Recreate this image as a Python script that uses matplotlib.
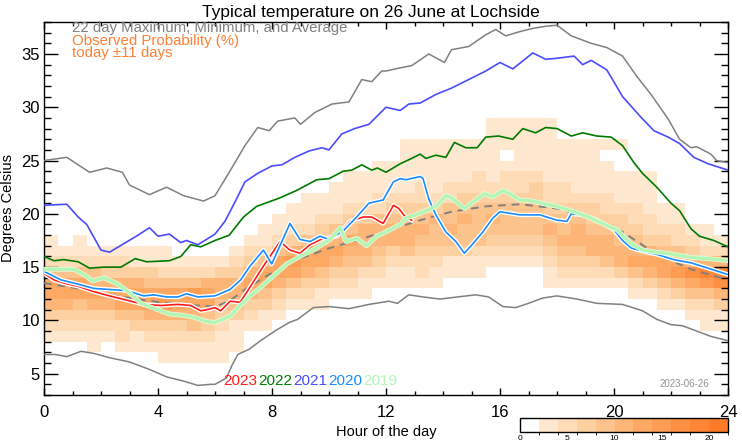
import matplotlib
matplotlib.use('Agg')
import matplotlib.pyplot as plt
import matplotlib.patheffects as pe
from matplotlib.colors import ListedColormap, BoundaryNorm
import numpy as np

plt.rcParams['font.family'] = ['Liberation Sans', 'DejaVu Sans']
plt.rcParams['lines.solid_joinstyle'] = 'round'

# Observed probability, one string per half-hour column, rows are 1 degree
# bins starting at 5 C. Digit = colour level (level n -> 2n..2n+2 %)
prob_cols = [
    "0001235664211", "000123566421", "0001234664211", "001123565421",
    "000123565321", "001224665321", "001134665311", "001235664311",
    "011235764211", "01123566421", "01124567421", "01123466521",
    "01112345531", "001113455321", "0000123565321", "00001134664211",
    "000001235664211", "0000001246753211", "00000012356642111", "00000011346653211",
    "000000012356542111", "0000000123456432111", "0000000112455532111", "00000000123455422111",
    "00000000112355432111", "0000000011245543211111", "0000000012234543221111", "0000000011234453211111",
    "0000000001134544221111", "0000000001134454321111", "0000000001124444322111", "000000000012345432111111",
    "000000000012344432210111", "000000000012344432211111", "000000000012344433211111", "000000001123454322111111",
    "0000000012345443221111", "0000000012345543211111", "0000000012355433211111", "0000000012455432211101",
    "0000000013554332111001", "0000000124654322111", "0000000135653221111", "0000001246643211",
    "0000001357642211", "00000124685321", "00001124795211", "0000113589521",
]
prob_t0 = 5
prob_rows = 25

# 22 day maximum / minimum / average
max_h = [0, 0.8, 1.6, 2.2, 2.75, 3.0, 3.7, 4.3, 4.9, 5.6, 6.0, 6.5, 7.05, 7.5, 7.9, 8.2, 8.8, 9.0, 9.5,
         10.1, 10.7, 11.15, 11.5, 11.85, 12.0, 12.5, 12.9, 13.5, 14.05, 14.3, 14.9, 15.5, 15.85, 16.2,
         16.7, 17.15, 17.6, 18.0, 18.5, 19.2, 19.75, 20.3, 20.8, 21.3, 21.9, 22.3, 22.7, 22.9, 23.4, 23.6, 24.0]
max_t = [25.0, 25.3, 23.9, 24.3, 23.9, 22.7, 21.8, 22.5, 21.7, 21.2, 21.7, 23.9, 26.4, 28.1, 27.8, 28.7, 29.0, 28.4, 29.5,
         30.3, 30.5, 32.6, 32.4, 33.4, 33.4, 33.7, 33.9, 35.0, 34.2, 35.4, 35.7, 36.8, 37.3, 36.7,
         37.1, 37.4, 37.6, 37.7, 36.7, 36.0, 35.6, 34.8, 32.9, 31.2, 28.9, 27.0, 26.2, 26.3, 25.6, 25.0, 24.8]

min_h = [0, 0.4, 0.8, 1.3, 1.75, 2.3, 3.0, 3.7, 4.3, 4.9, 5.4, 5.85, 6.0, 6.4, 6.6, 6.8, 7.2, 7.6, 8.1, 8.6, 8.9,
         9.45, 10.0, 10.7, 11.4, 12.1, 12.4, 12.8, 13.3, 13.9, 14.5, 15.15, 15.6, 16.1, 16.55, 17.0, 17.5,
         18.0, 18.7, 19.4, 20.3, 21.0, 21.5, 22.0, 22.4, 22.9, 23.4, 24.0]
min_t = [6.8, 6.8, 6.6, 7.1, 6.9, 6.5, 6.1, 5.4, 4.7, 4.3, 3.9, 4.0, 4.0, 4.6, 5.8, 6.8, 7.3, 8.1, 9.0, 9.8, 10.1,
         11.2, 11.3, 11.1, 11.5, 11.8, 11.6, 12.4, 12.2, 12.0, 12.2, 12.4, 12.2, 11.3, 11.2, 11.6, 12.1,
         12.3, 12.0, 11.6, 11.5, 10.9, 10.1, 9.6, 9.5, 9.0, 8.5, 8.1]

avg_h = [0, 1.2, 2.3, 3.5, 4.7, 6.0, 6.5, 7.0, 7.7, 8.87, 10.04, 11.2, 12.37, 13.2, 14.3, 15.5, 16.7, 18.0,
         19.2, 20.3, 21.5, 22.7, 24.0]
avg_t = [13.5, 13.0, 12.4, 11.9, 11.5, 11.3, 11.8, 12.8, 14.0, 15.7, 16.8, 17.7, 18.7, 19.4, 20.2, 20.7, 20.9, 20.5,
         19.6, 18.3, 16.2, 14.8, 13.8]

# individual years
y2021_h = [0, 0.8, 1.2, 1.5, 2.0, 2.3, 2.8, 3.3, 3.7, 4.0, 4.4, 4.8, 5.0, 5.4, 6.0, 6.35, 6.7, 7.05, 7.5, 8.0,
           8.35, 8.8, 9.3, 9.75, 10.0, 10.45, 10.9, 11.4, 11.7, 12.0, 12.5, 12.8, 13.2, 13.75, 14.3, 14.9,
           15.5, 16.0, 16.45, 17.15, 17.6, 18.0, 18.6, 18.9, 19.2, 19.75, 20.3, 20.9, 21.4, 21.9, 22.3,
           22.8, 23.3, 24.0]
y2021_t = [20.8, 20.9, 19.7, 19.0, 16.6, 16.4, 17.2, 18.0, 18.7, 17.9, 18.1, 17.3, 17.5, 17.1, 18.1, 19.3, 21.1, 23.0, 23.8, 24.5,
           24.6, 25.3, 25.9, 26.2, 26.0, 27.5, 28.0, 28.4, 29.2, 30.0, 29.7, 30.3, 30.4, 31.2, 31.8, 32.6,
           33.4, 34.2, 33.6, 35.1, 34.5, 34.6, 34.8, 34.0, 34.4, 33.5, 31.0, 29.2, 27.8, 27.2, 26.6,
           25.3, 24.7, 24.1]

y2022_h = [0, 0.35, 0.7, 1.2, 1.6, 2.1, 2.7, 3.2, 3.6, 4.4, 4.8, 5.15, 5.5, 6.0, 6.5, 7.0, 7.46, 8.28, 8.87,
           9.57, 10.0, 10.5, 10.8, 11.15, 11.5, 11.7, 12.0, 12.5, 12.9, 13.2, 13.4, 13.75, 14.1, 14.4, 14.8,
           15.2, 15.5, 15.95, 16.45, 16.8, 17.25, 17.6, 18.0, 18.5, 18.9, 19.4, 19.9, 20.3, 20.7, 21.0,
           21.5, 22.0, 22.3, 22.7, 23.0, 23.5, 24.0]
y2022_t = [16.0, 15.6, 15.7, 15.5, 14.9, 15.0, 15.0, 15.8, 15.5, 15.6, 16.0, 17.1, 16.9, 17.5, 18.0, 19.7, 20.7, 21.5, 22.2,
           23.2, 23.3, 24.0, 24.1, 24.6, 24.1, 24.3, 23.9, 24.7, 25.2, 25.6, 25.2, 25.5, 25.3, 26.7, 26.2,
           26.2, 27.2, 27.3, 27.0, 28.0, 27.6, 28.1, 28.0, 27.3, 27.6, 27.3, 27.2, 26.4, 24.8, 23.8,
           22.5, 21.0, 20.3, 18.6, 17.9, 17.5, 16.9]

y2023_h = [0, 0.35, 0.7, 1.2, 1.75, 2.3, 2.9, 3.5, 4.1, 4.7, 5.15, 5.5, 5.7, 6.0, 6.2, 6.53, 6.88, 7.2, 7.7,
           8.28, 8.63, 8.98, 9.33, 9.8, 10.27, 10.74, 11.2, 11.5, 11.9, 12.26, 12.45, 12.65, 12.9]
y2023_t = [14.4, 13.8, 13.5, 13.2, 12.7, 12.3, 11.9, 11.5, 11.4, 11.5, 11.4, 10.9, 11.0, 11.2, 10.9, 11.8, 11.7, 13.0, 15.1,
           17.4, 16.6, 16.3, 17.1, 17.7, 17.9, 19.3, 19.7, 19.7, 19.1, 20.8, 20.5, 19.8, 19.4]

y2020_h = [0, 0.6, 1.2, 1.75, 2.3, 2.9, 3.5, 3.85, 4.3, 4.7, 5.0, 5.4, 6.0, 6.53, 6.9, 7.23, 7.7, 7.99, 8.28,
           8.63, 8.98, 9.33, 9.68, 10.0, 10.5, 10.97, 11.4, 11.9, 12.26, 12.5, 12.7, 13.2, 13.3, 13.5, 13.75,
           14.1, 14.45, 14.75, 15.05, 15.4, 15.75, 16.0, 16.7, 17.4, 18.0, 18.35, 18.5, 18.9, 19.4, 20.0,
           20.3, 20.6, 21.0, 21.5, 22.1, 22.7, 23.3, 24.0]
y2020_t = [14.6, 13.8, 13.4, 13.0, 12.9, 12.8, 12.3, 12.4, 12.2, 12.2, 12.5, 12.2, 12.3, 12.9, 13.8, 15.1, 16.6, 15.3, 17.0,
           19.1, 17.6, 17.4, 17.9, 17.6, 18.4, 19.7, 21.0, 21.3, 23.0, 23.3, 23.2, 23.5, 23.3, 21.4, 19.9,
           18.3, 17.4, 16.3, 17.2, 18.3, 19.6, 20.2, 19.9, 19.9, 19.4, 19.3, 20.0, 19.9, 19.4, 18.5,
           17.5, 16.8, 16.5, 16.2, 15.7, 15.4, 14.9, 14.3]

y2019_h = [0, 0.5, 1.05, 1.4, 1.7, 2.1, 2.6, 3.0, 3.4, 3.7, 4.1, 4.4, 4.8, 5.25, 5.7, 6.0, 6.53, 6.88, 7.23,
           7.6, 7.93, 8.52, 8.98, 9.57, 10.04, 10.39, 10.6, 10.97, 11.32, 11.67, 12.14, 12.5, 12.7, 13.05,
           13.4, 13.75, 14.1, 14.3, 14.75, 15.05, 15.45, 15.75, 16.1, 16.4, 16.7, 17.15, 17.6, 18.0, 18.6,
           19.2, 19.75, 20.1, 20.6, 21.0, 21.5, 22.1, 22.7, 23.3, 24.0]
y2019_t = [14.8, 14.8, 14.8, 14.3, 13.7, 14.0, 13.4, 12.6, 11.6, 11.3, 10.9, 10.6, 10.5, 10.3, 9.9, 9.8, 10.4, 11.4, 12.3,
           13.1, 13.9, 15.3, 16.0, 16.8, 17.6, 18.7, 17.4, 17.7, 17.0, 17.9, 18.5, 19.0, 19.6, 19.9,
           20.3, 20.7, 21.7, 21.5, 20.5, 21.1, 21.9, 21.6, 22.2, 21.8, 21.3, 21.2, 20.9, 20.7, 20.2,
           19.6, 18.9, 18.5, 17.2, 16.6, 16.4, 16.2, 15.9, 15.8, 15.6]

years = ['2023', '2022', '2021', '2020', '2019']
year_colors = ['#ff1a1a', '#007a00', '#4b4bff', '#1a8cff', '#b4f5b4']

cbar_ticks = [0, 5, 10, 15, 20]

# build the probability grid
grid = np.zeros((prob_rows, len(prob_cols)))
for j, s in enumerate(prob_cols):
    for i, ch in enumerate(s):
        lev = int(ch, 16)
        grid[i, j] = lev * 2 + 1 if lev > 0 else 0
hour_edges = np.arange(0, 24.01, 0.5)
temp_edges = np.arange(prob_t0, prob_t0 + prob_rows + 0.01, 1)

oranges = ['#ffffff', '#fee8d0', '#fedcb8', '#fdd0a2', '#fdc38c', '#fdb678',
           '#fda964', '#fd9c52', '#fd9042', '#fd8534', '#fd7a26']
cmap = ListedColormap(oranges)
norm = BoundaryNorm(np.arange(0, 23, 2), cmap.N)

fig = plt.figure(figsize=(7.42, 4.45), dpi=100)
ax = fig.add_axes([44/742, 1-395/445, 684/742, 373/445])

mesh = ax.pcolormesh(hour_edges, temp_edges, grid, cmap=cmap, norm=norm, zorder=1)

ax.plot(max_h, max_t, color='#808080', lw=1.1, zorder=3)
ax.plot(min_h, min_t, color='#808080', lw=1.1, zorder=3)
ax.plot(y2021_h, y2021_t, color=year_colors[2], lw=1.2, zorder=3)
ax.plot(y2022_h, y2022_t, color=year_colors[1], lw=1.2, zorder=3)
ax.plot(avg_h, avg_t, color='#808080', lw=1.4, ls=(0, (4, 3)), zorder=4)

halo = [pe.Stroke(linewidth=3.2, foreground='white'), pe.Normal()]
ax.plot(y2023_h, y2023_t, color=year_colors[0], lw=1.2, zorder=5, path_effects=halo)
ax.plot(y2020_h, y2020_t, color=year_colors[3], lw=1.2, zorder=5, path_effects=halo)
ax.plot(y2019_h, y2019_t, color=year_colors[4], lw=2.4,
        zorder=6, path_effects=[pe.Stroke(linewidth=3.4, foreground='#e8ffe8'), pe.Normal()])

ax.set_xlim(0, 24)
ax.set_ylim(3, 38)
ax.set_xticks(range(0, 25, 4))
ax.set_xticks(range(0, 25), minor=True)
ax.set_yticks(range(5, 36, 5))
ax.set_yticks(range(3, 39), minor=True)
ax.tick_params(which='both', direction='in', top=True, right=True, labelsize=12, width=1)
ax.tick_params(axis='y', which='major', length=10, pad=3)
ax.tick_params(axis='y', which='minor', length=5)
ax.tick_params(axis='x', which='major', length=5, pad=7)
ax.tick_params(axis='x', which='minor', length=3)
for sp in ax.spines.values():
    sp.set_linewidth(1)

ax.set_xlabel('Hour of the day', fontsize=10.5)
ax.xaxis.set_label_coords(0.5, -0.08)
ax.xaxis.label.set_va('top')
ax.set_ylabel('Degrees Celsius', fontsize=10.5)
ax.yaxis.set_label_coords(-0.042, 0.5)

fig.text(371/742, 1-17/445, 'Typical temperature on 26 June at Lochside',
         ha='center', va='baseline', fontsize=12.5)
fig.text(72/742, 1-32/445, '22 day Maximum, Minimum, and Average',
         color='#808080', fontsize=10.8, va='baseline')
fig.text(72/742, 1-44.5/445, 'Observed Probability (%)',
         color='#ff8033', fontsize=10.8, va='baseline')
fig.text(72/742, 1-57.5/445, 'today \u00b111 days',
         color='#ff8033', fontsize=10.8, va='baseline')

# year legend along the bottom
x0 = 223
for i, (yr, c) in enumerate(zip(years, year_colors)):
    fig.text((x0 + i*35)/742, 1-385/445, yr, color=c, fontsize=11, va='baseline')

fig.text(709/742, 1-387/445, '2023-06-26', color='#909090', fontsize=7,
         ha='right', va='baseline')

cax = fig.add_axes([520/742, 1-432/445, 208/742, 14/445])
cb = fig.colorbar(mesh, cax=cax, orientation='horizontal', ticks=cbar_ticks)
cb.ax.tick_params(length=0, labelsize=6, pad=2)
cb.outline.set_linewidth(1)

fig.savefig('out.png', dpi=100)
